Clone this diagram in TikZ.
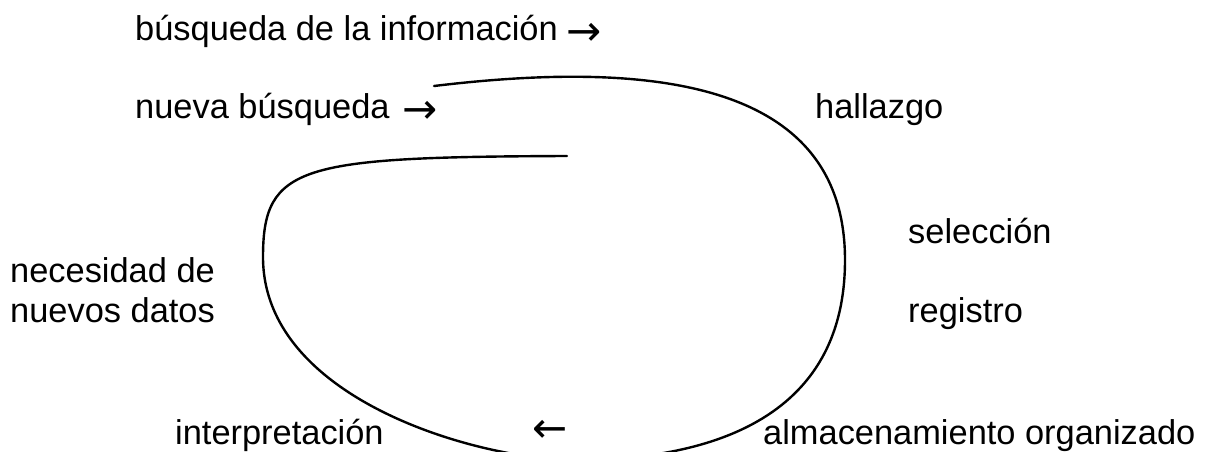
\documentclass[tikz,border=0pt]{standalone}
\usepackage{fontspec}
\setmainfont{Liberation Sans}
\newfontfamily\arrowfont{DejaVu Sans}
\newcommand{\arr}[1]{{\fontsize{42}{42}\arrowfont #1}} % larger arrows
\usetikzlibrary{positioning}
\tikzset{x=1pt, y=-1pt, % pixel units, y runs down
every node/.style={ % all labels sit on their baseline
anchor=base west,
inner sep=0pt,
font=\fontsize{34.4}{40}\selectfont},
loopline/.style={ % the hand drawn loop
line width=2.4pt,
line cap=round}}

\begin{document}
\begin{tikzpicture}

    \useasboundingbox (0,0) rectangle (1205,452);
    
    \node (busq) at (135,41) {búsqueda de la información\hspace{9pt}\raisebox{-5pt}{\arr{→}}};
    \node (nueva) at (135,118) {nueva búsqueda\hspace{13pt}\raisebox{-5pt}{\arr{→}}};
    \node (hall) at (815,118) {hallazgo};
    \node (sel) at (908,243) {selección};
    \node (reg) at (908,322) {registro};
    \node[align=left] (nec) at (10,322) {necesidad de\\nuevos datos};
    \node (interp) at (175,444) {interpretación};
    \node (alm) at (763,444) {almacenamiento organizado};
    \node[anchor=center] (back) at (550,431) {\arr{←}};
    
    \coordinate (start) at (434,86);
    \coordinate (stop) at (567,156);
    
    \clip (0,0) rectangle (1205,452);
    \draw[loopline] (start) .. controls (650,60) and (845,80) .. (845,260)
        .. controls (845,430) and (690,460) .. (575,460)
        .. controls (480,460) and (263,400) .. (263,257)
        .. controls (263,165) and (300,157) .. (stop);
    
\end{tikzpicture}
\end{document}
